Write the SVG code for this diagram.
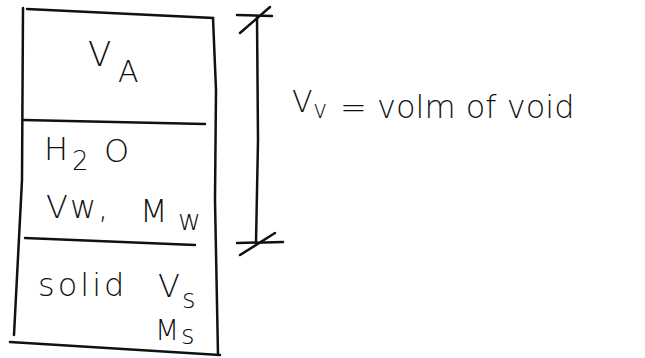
<svg xmlns="http://www.w3.org/2000/svg" width="645" height="358" viewBox="0 0 645 358">
<style>
.ln{stroke:#111;stroke-width:2.5;fill:none;stroke-linecap:round}
.t{font-family:"DejaVu Sans","Liberation Sans",sans-serif;fill:#111;font-weight:300}
</style>
<rect width="645" height="358" fill="#fff"/>
<g id="box">
<path class="ln" d="M27 9 L213 18 L216 90 L215 200 L218 355"/>
<path class="ln" d="M23 8 L22 180 L14 335"/>
<path class="ln" d="M10 342 L220 355"/>
</g>
<g id="air">
<path class="ln" d="M23 120 L205 124"/>
<text class="t" x="88" y="66" font-size="34">V</text>
<text class="t" x="118" y="82" font-size="30">A</text>
</g>
<g id="water">
<path class="ln" d="M25 238 L195 245"/>
<text class="t" x="44" y="160" font-size="32">H</text>
<text class="t" x="72" y="170" font-size="26">2</text>
<text class="t" x="104" y="162" font-size="32">O</text>
<text class="t" x="46" y="218" font-size="32" letter-spacing="2">Vw,</text>
<text class="t" x="140" y="222" font-size="32">M</text>
<text class="t" x="178" y="230" font-size="28">w</text>
</g>
<g id="solid">
<text class="t" x="38" y="296" font-size="32" letter-spacing="3">solid</text>
<text class="t" x="158" y="297" font-size="32">V</text>
<text class="t" x="182" y="308" font-size="26">s</text>
<text class="t" x="155" y="340" font-size="28">M</text>
<text class="t" x="181" y="344" font-size="26">s</text>
</g>
<g id="connectors">
<path class="ln" d="M257 17 L258 140 L256 243"/>
<path class="ln" d="M237 15 L272 16"/>
<path class="ln" d="M240 33 L270 7"/>
<path class="ln" d="M237 243 L283 242"/>
<path class="ln" d="M240 255 L275 233"/>
</g>
<g id="label">
<text class="t" x="292" y="112" font-size="30">V</text>
<text class="t" x="313" y="118" font-size="24">v</text>
<text class="t" x="340" y="118" font-size="32">= volm of void</text>
</g>
</svg>
